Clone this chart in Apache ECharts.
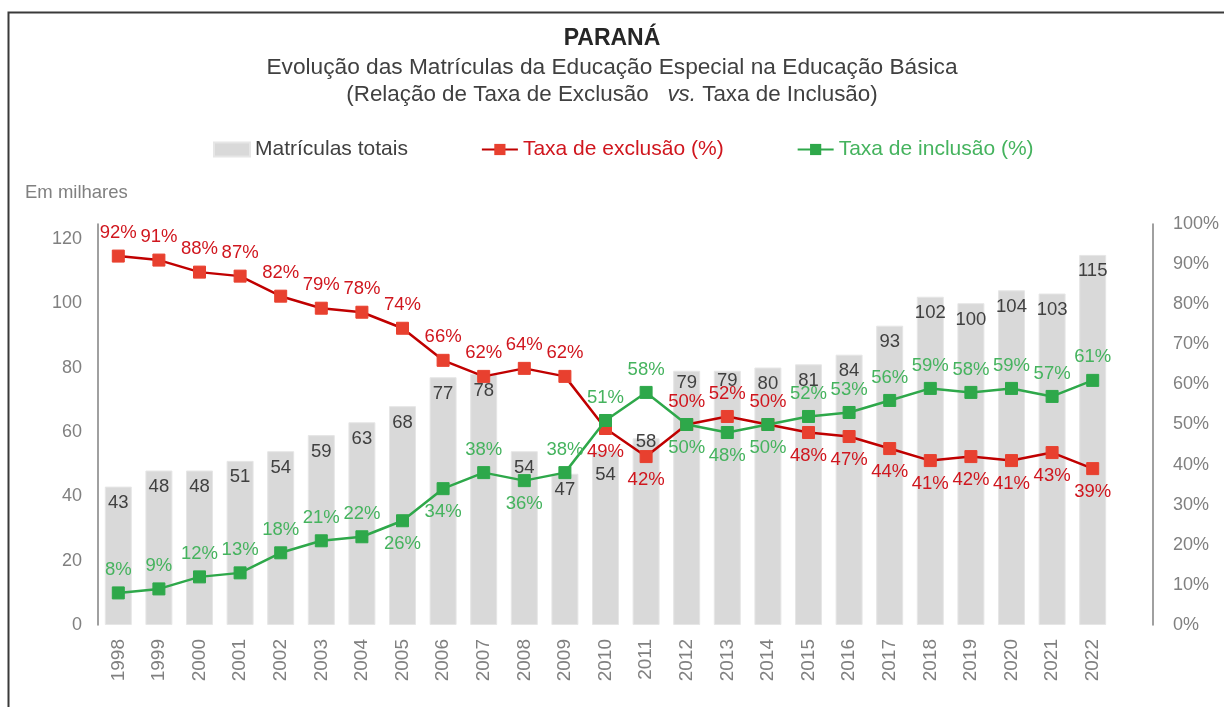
<!DOCTYPE html>
<html>
<head>
<meta charset="utf-8">
<script src="https://cdn.jsdelivr.net/npm/echarts@6/dist/echarts.min.js"></script>
<style>
html,body{margin:0;padding:0;background:#fff;}
#chart{width:1224px;height:707px;}
</style>
</head>
<body>
<div id="chart"></div>
<script>
const years = ['1998','1999','2000','2001','2002','2003','2004','2005','2006','2007','2008','2009','2010','2011','2012','2013','2014','2015','2016','2017','2018','2019','2020','2021','2022'];
const matriculasTotais = [43,48,48,51,54,59,63,68,77,78,54,47,54,58,79,79,80,81,84,93,102,100,104,103,115];
const taxaExclusao = [92,91,88,87,82,79,78,74,66,62,64,62,49,42,50,52,50,48,47,44,41,42,41,43,39];
const taxaInclusao = [8,9,12,13,18,21,22,26,34,38,36,38,51,58,50,48,50,52,53,56,59,58,59,57,61];
const leftTicks = [0,20,40,60,80,100,120];

// label placement (layout only)
const exclusionLabelPlacement = ['top','top','top','top','top','top','top','top','top','top','top','top','bottom','bottom','top','top','top','bottom','bottom','bottom','bottom','bottom','bottom','bottom','bottom'];
const inclusionLabelPlacement = ['top','top','top','top','top','top','top','bottom','bottom','top','bottom','top','top','top','bottom','bottom','bottom','top','top','top','top','top','top','top','top'];
const barLabelDistance = [7,7,7,7,7,7,7,7,7,7,7,7,14,-6,3,1,7,7,7,7,7,7,7,7,7];

const FONT = '"Liberation Sans", Arial, sans-serif';
const RED_LINE = '#C00000', RED_MARK = '#E8402F', RED_TEXT = '#D0161E';
const GREEN_LINE = '#2EA84A', GREEN_MARK = '#2EA84A', GREEN_TEXT = '#45B35E';

const chart = echarts.init(document.getElementById('chart'), null, {renderer: 'canvas'});

function lineData(values, placement) {
  return values.map((v, i) => ({value: v, label: {position: placement[i]}}));
}
function barData(values, dist) {
  return values.map((v, i) => ({value: v, label: {distance: dist[i]}}));
}

const option = {
  animation: false,
  backgroundColor: '#fff',
  textStyle: {fontFamily: FONT},
  title: [
    {text: 'PARANÁ', left: 'center', top: 22, textStyle: {fontFamily: FONT, fontSize: 23, fontWeight: 'bold', color: '#262626'}},
    {text: 'Evolução das Matrículas da Educação Especial na Educação Básica', left: 'center', top: 51, textStyle: {fontFamily: FONT, fontSize: 22.7, fontWeight: 'normal', color: '#404040'}},
    {text: '{n|(Relação de Taxa de Exclusão   }{i|vs.}{n| Taxa de Inclusão)}', left: 'center', top: 79,
      textStyle: {fontFamily: FONT, fontSize: 22.4, fontWeight: 'normal', color: '#404040',
        rich: {n: {fontFamily: FONT, fontSize: 22.4, color: '#404040'}, i: {fontFamily: FONT, fontSize: 22.4, color: '#404040', fontStyle: 'italic'}}}},
    {text: 'Em milhares', left: 20, top: 178, textStyle: {fontFamily: FONT, fontSize: 18.5, fontWeight: 'normal', color: '#808080'}}
  ],
  legend: {
    left: 208, top: 134,
    itemWidth: 36, itemHeight: 14, itemGap: 73,
    textStyle: {fontFamily: FONT, fontSize: 21},
    data: [
      {name: 'Matrículas totais', icon: 'rect', textStyle: {color: '#404040'}},
      {name: 'Taxa de exclusão (%)', textStyle: {color: RED_TEXT}},
      {name: 'Taxa de inclusão (%)', textStyle: {color: GREEN_TEXT}}
    ]
  },
  graphic: [
    {type: 'rect', left: 6, top: 10, shape: {x: 0, y: 0, width: 1300, height: 800}, style: {fill: 'none', stroke: '#3a3a3a', lineWidth: 2}, silent: true, z: 100}
  ],
  grid: {left: 98, right: 111, top: 224, bottom: 82, containLabel: false},
  xAxis: {
    type: 'category',
    data: years,
    axisLine: {show: false},
    axisTick: {show: false},
    axisLabel: {rotate: 90, color: '#808080', fontSize: 19, fontFamily: FONT, margin: 14, interval: 0}
  },
  yAxis: [
    {
      type: 'value', min: 0, max: 124.6, interval: 20,
      axisLine: {show: true, lineStyle: {color: '#808080', width: 1.5}},
      axisTick: {show: false},
      splitLine: {show: false},
      axisLabel: {color: '#808080', fontSize: 18, fontFamily: FONT, margin: 16,
        formatter: v => (leftTicks.indexOf(Math.round(v * 1000) / 1000) >= 0 ? String(v) : '')}
    },
    {
      type: 'value', min: 0, max: 100, interval: 10, position: 'right', offset: 40,
      axisLine: {show: true, lineStyle: {color: '#808080', width: 1.5}},
      axisTick: {show: false},
      splitLine: {show: false},
      axisLabel: {color: '#808080', fontSize: 18, fontFamily: FONT, margin: 20, formatter: '{value}%'}
    }
  ],
  series: [
    {
      name: 'Matrículas totais', type: 'bar', yAxisIndex: 0,
      data: barData(matriculasTotais, barLabelDistance), barWidth: 27,
      itemStyle: {color: '#D9D9D9', borderColor: '#E6E6E6', borderWidth: 1},
      label: {show: true, position: 'insideTop', distance: 7, color: '#404040', fontSize: 18.5, fontFamily: FONT},
      z: 1
    },
    {
      name: 'Taxa de exclusão (%)', type: 'line', yAxisIndex: 1,
      data: lineData(taxaExclusao, exclusionLabelPlacement),
      symbol: 'rect', symbolSize: 12, showAllSymbol: true,
      lineStyle: {color: RED_LINE, width: 2.5},
      itemStyle: {color: RED_MARK, borderColor: RED_MARK},
      label: {show: true, formatter: '{c}%', color: RED_TEXT, fontSize: 18.5, fontFamily: FONT, distance: 7},
      z: 3
    },
    {
      name: 'Taxa de inclusão (%)', type: 'line', yAxisIndex: 1,
      data: lineData(taxaInclusao, inclusionLabelPlacement),
      symbol: 'rect', symbolSize: 12, showAllSymbol: true,
      lineStyle: {color: GREEN_LINE, width: 2.5},
      itemStyle: {color: GREEN_MARK, borderColor: GREEN_MARK},
      label: {show: true, formatter: '{c}%', color: GREEN_TEXT, fontSize: 18.5, fontFamily: FONT, distance: 7},
      z: 4
    }
  ]
};
chart.setOption(option);
</script>
</body>
</html>
